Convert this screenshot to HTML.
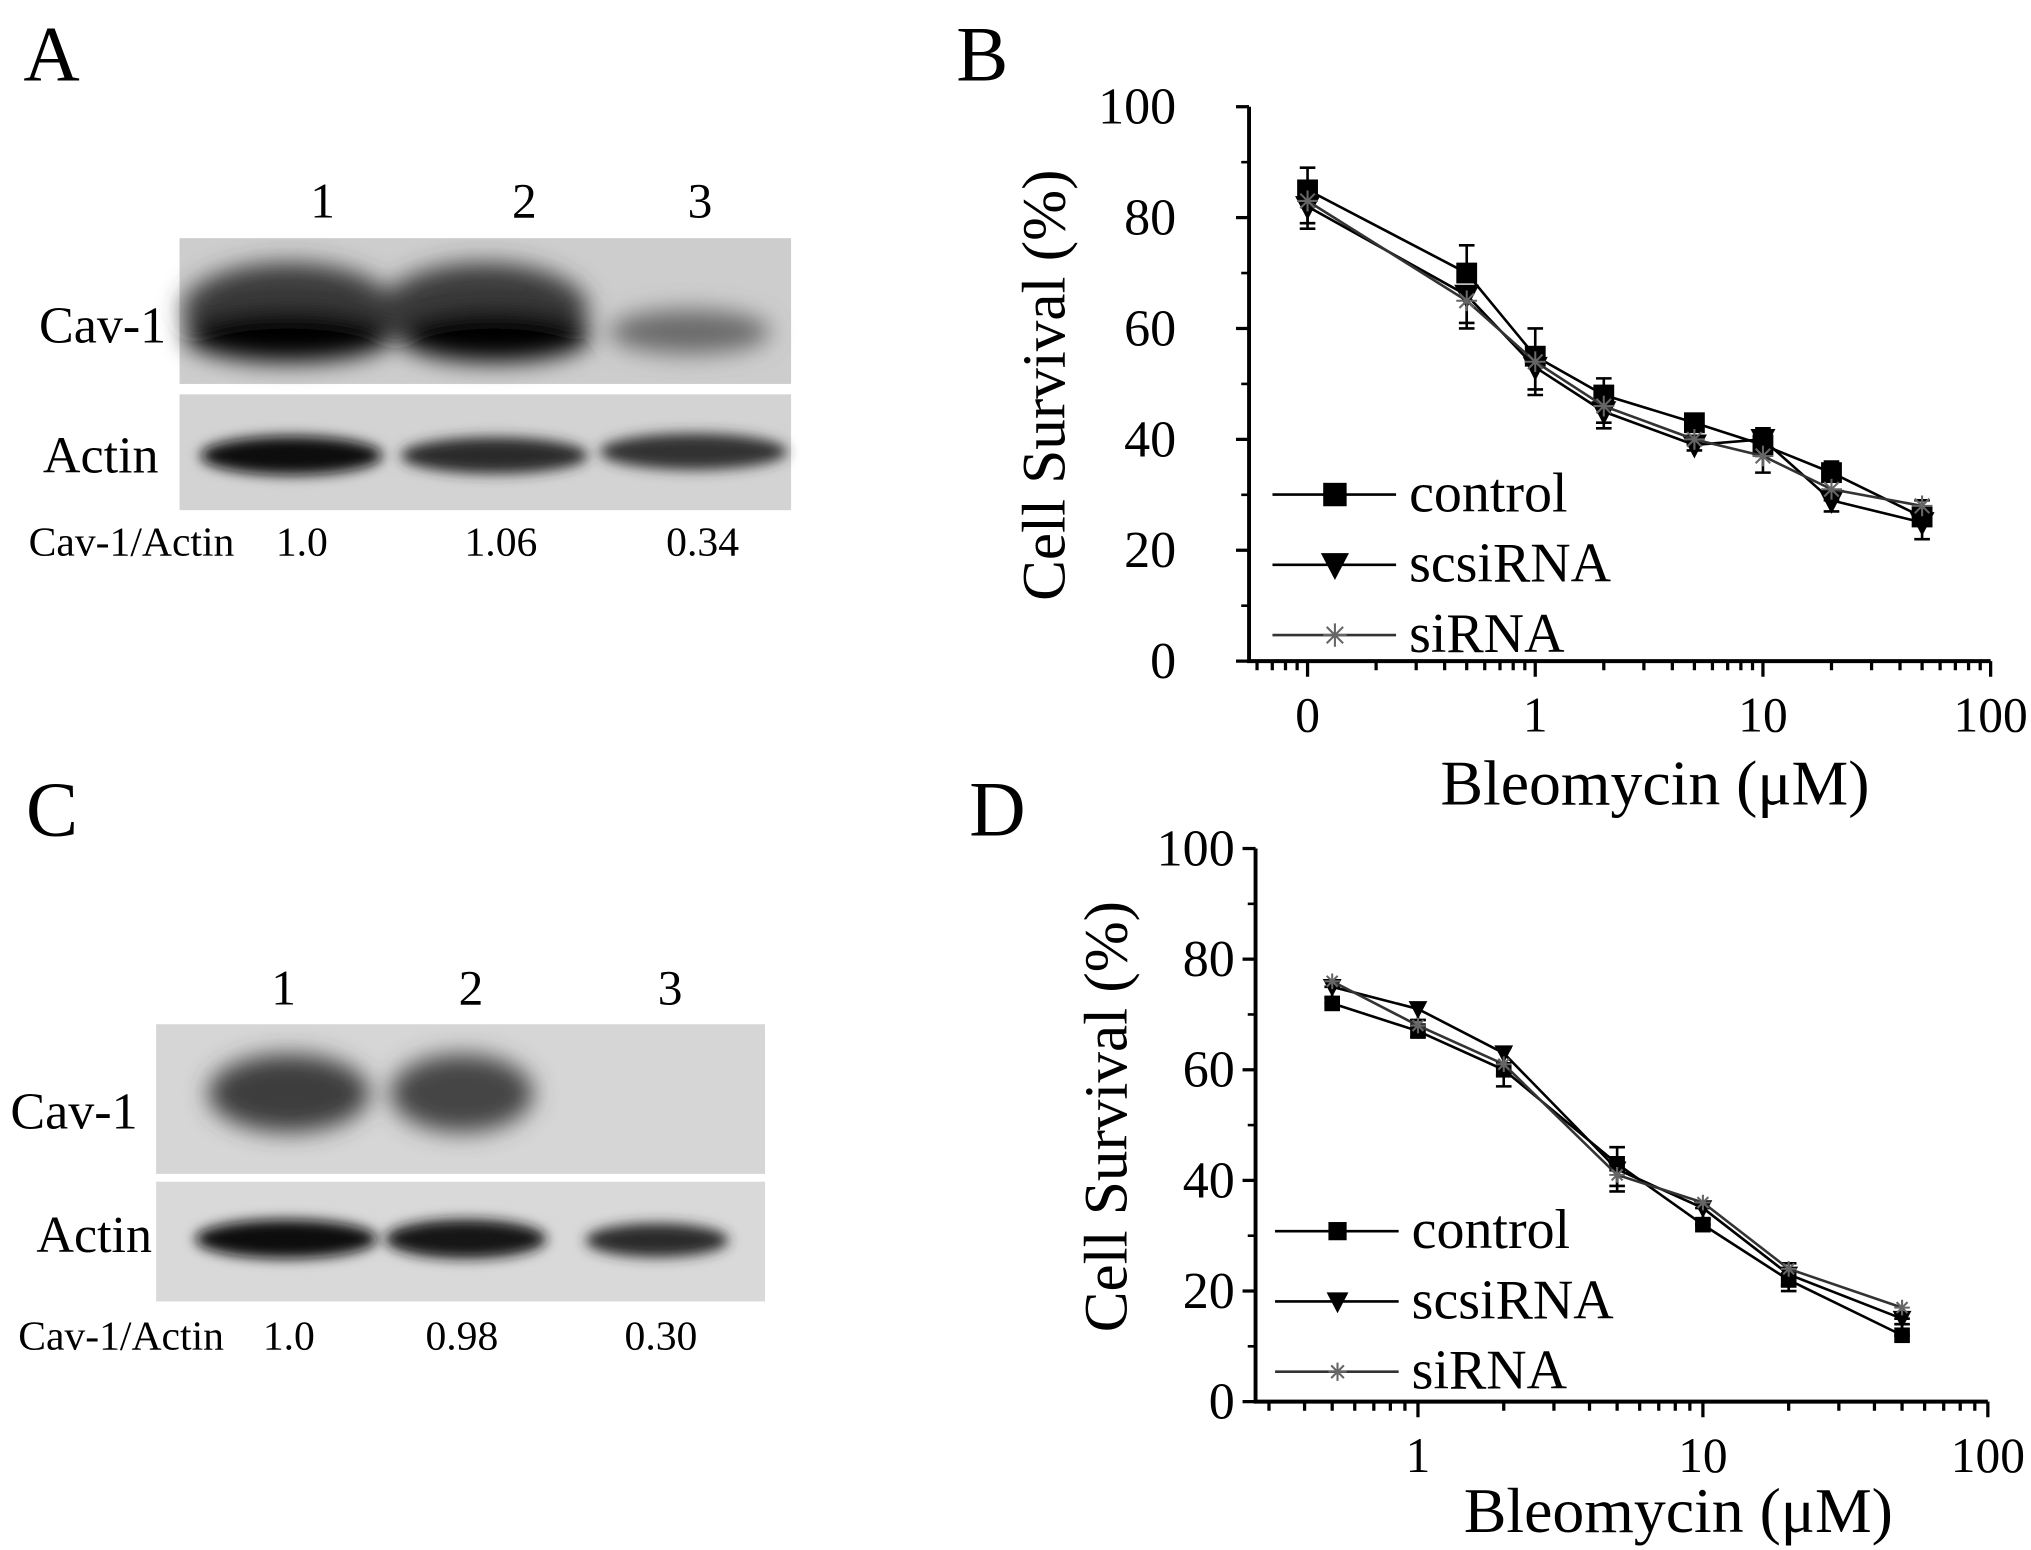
<!DOCTYPE html>
<html><head><meta charset="utf-8"><style>
html,body{margin:0;padding:0;background:#fff;}
svg{display:block;}
text{font-family:"Liberation Serif",serif;fill:#000;}
</style></head><body>
<svg id="fig" xmlns="http://www.w3.org/2000/svg" width="2031" height="1550" viewBox="0 0 1561 1191" preserveAspectRatio="none">
<defs>
<filter id="bl" x="-30%" y="-60%" width="160%" height="220%"><feGaussianBlur stdDeviation="9"/></filter>
<filter id="bl2" x="-30%" y="-60%" width="160%" height="220%"><feGaussianBlur stdDeviation="5"/></filter>
</defs>
<rect width="1561" height="1191" fill="#fff"/>
<text x="18" y="62" font-size="60">A</text>
<text x="735" y="62" font-size="60">B</text>
<text x="20" y="642" font-size="60">C</text>
<text x="745" y="642" font-size="60">D</text>

<g>
<text x="248" y="167" font-size="38" text-anchor="middle">1</text>
<text x="403" y="167" font-size="38" text-anchor="middle">2</text>
<text x="538" y="167" font-size="38" text-anchor="middle">3</text>
<rect x="138" y="183" width="470" height="112" fill="#cdcdcd"/>
<rect x="138" y="303" width="470" height="89" fill="#d3d3d3"/>
<g filter="url(#bl)">
<ellipse cx="222" cy="238" rx="82" ry="36" fill="#3a3a3a"/>
<ellipse cx="372" cy="238" rx="80" ry="36" fill="#3a3a3a"/>
<ellipse cx="222" cy="258" rx="80" ry="20" fill="#050505"/>
<ellipse cx="380" cy="258" rx="74" ry="20" fill="#050505"/>
<ellipse cx="530" cy="255" rx="62" ry="17" fill="#6a6a6a"/>
</g>
<g filter="url(#bl2)">
<ellipse cx="224" cy="350" rx="70" ry="15" fill="#0a0a0a"/>
<ellipse cx="380" cy="350" rx="72" ry="14" fill="#2a2a2a"/>
<ellipse cx="533" cy="347" rx="72" ry="14" fill="#333"/>
</g>
<text x="30" y="263" font-size="40">Cav-1</text>
<text x="33" y="363" font-size="40">Actin</text>
<text x="22" y="427" font-size="32">Cav-1/Actin</text>
<text x="232" y="427" font-size="32" text-anchor="middle">1.0</text>
<text x="385" y="427" font-size="32" text-anchor="middle">1.06</text>
<text x="540" y="427" font-size="32" text-anchor="middle">0.34</text>
</g>

<g>
<text x="218" y="772" font-size="38" text-anchor="middle">1</text>
<text x="362" y="772" font-size="38" text-anchor="middle">2</text>
<text x="515" y="772" font-size="38" text-anchor="middle">3</text>
<rect x="120" y="787" width="468" height="115" fill="#d6d6d6"/>
<rect x="120" y="908" width="468" height="92" fill="#d9d9d9"/>
<g filter="url(#bl)">
<ellipse cx="222" cy="840" rx="62" ry="30" fill="#3e3e3e"/>
<ellipse cx="355" cy="840" rx="55" ry="30" fill="#454545"/>
</g>
<g filter="url(#bl2)">
<ellipse cx="220" cy="952" rx="70" ry="15" fill="#111"/>
<ellipse cx="358" cy="952" rx="62" ry="15" fill="#151515"/>
<ellipse cx="505" cy="953" rx="55" ry="13" fill="#2a2a2a"/>
</g>
<text x="8" y="867" font-size="40">Cav-1</text>
<text x="28" y="962" font-size="40">Actin</text>
<text x="14" y="1037" font-size="32">Cav-1/Actin</text>
<text x="222" y="1037" font-size="32" text-anchor="middle">1.0</text>
<text x="355" y="1037" font-size="32" text-anchor="middle">0.98</text>
<text x="508" y="1037" font-size="32" text-anchor="middle">0.30</text>
</g>
<g id="chartB"></g>
<g id="chartD"></g>
</svg>
<script>
// Chart B data
const bDoses = [0.1, 0.5, 1, 2, 5, 10, 20, 50];
const bControl = [85, 70, 55, 48, 43, 39, 34, 26];
const bScsi = [82, 66, 53, 45, 39, 40, 29, 25];
const bSi = [83, 65, 54, 46, 40, 37, 31, 28];
const bErr = [4, 5, 5, 3, 1, 3, 2, 3];
const bXTickLabels = ["0", "1", "10", "100"];
const bXTickValues = [0.1, 1, 10, 100];
// Chart D data
const dDoses = [0.5, 1, 2, 5, 10, 20, 50];
const dControl = [72, 67, 60, 43, 32, 22, 12];
const dScsi = [75, 71, 63, 42, 35, 23, 15];
const dSi = [76, 68, 61, 41, 36, 24, 17];
const dErr = [3, 2, 4, 3, 3, 3, 3];
const dXTickLabels = ["1", "10", "100"];
const dXTickValues = [1, 10, 100];
const yTickValues = [0, 20, 40, 60, 80, 100];
const seriesNames = ["control", "scsiRNA", "siRNA"];

const NS = "http://www.w3.org/2000/svg";
function mk(parent, tag, attrs, txt){
  const e = document.createElementNS(NS, tag);
  for (const k in attrs) e.setAttribute(k, attrs[k]);
  if (txt !== undefined) e.textContent = txt;
  parent.appendChild(e);
  return e;
}
function marker(g, kind, x, y, s){
  let m;
  if (kind === 0) m = mk(g, "rect", {x:x-s, y:y-s, width:2*s, height:2*s, fill:"#000"});
  else if (kind === 1) m = mk(g, "path", {d:`M${x-s*1.2},${y-s} L${x+s*1.2},${y-s} L${x},${y+s*1.3} Z`, fill:"#000"});
  else { m = mk(g, "path", {d:`M${x-s},${y} L${x+s},${y} M${x},${y-s} L${x},${y+s} M${x-s*0.7},${y-s*0.7} L${x+s*0.7},${y+s*0.7} M${x-s*0.7},${y+s*0.7} L${x+s*0.7},${y-s*0.7}`, stroke:"#666", "stroke-width":1.6, fill:"none"}); }
  return m;
}
function drawChart(cfg){
  const g = document.getElementById(cfg.id);
  const X = v => cfg.x0 + (Math.log10(v) - cfg.lmin) * cfg.dec;
  const Y = v => cfg.y0 - v * cfg.ys;
  const right = X(cfg.xmax);
  const ax = mk(g, "path", {d:`M${cfg.x0},${Y(100)} L${cfg.x0},${cfg.y0} L${right},${cfg.y0}`, stroke:"#000", "stroke-width":3, fill:"none"});
  
  
  yTickValues.forEach(v => {
    mk(g, "line", {x1:cfg.x0-10, x2:cfg.x0, y1:Y(v), y2:Y(v), stroke:"#000", "stroke-width":2.5});
    if (v < 100) mk(g, "line", {x1:cfg.x0-6, x2:cfg.x0, y1:Y(v+10), y2:Y(v+10), stroke:"#000", "stroke-width":2});
    const t = mk(g, "text", {x:cfg.x0-cfg.tko, y:Y(v)+13, "font-size":40, "text-anchor":"end"}, String(v));
    
    
  });
  for (let e = Math.floor(cfg.lmin); e < Math.log10(cfg.xmax); e++){
    for (let k = 1; k <= 9; k++){
      const v = k * Math.pow(10, e);
      const lv = Math.log10(v);
      if (lv < cfg.lmin - 1e-9 || lv > Math.log10(cfg.xmax) + 1e-9) continue;
      const len = k === 1 ? 12 : 7;
      mk(g, "line", {x1:X(v), x2:X(v), y1:cfg.y0, y2:cfg.y0+len, stroke:"#000", "stroke-width":2.5});
    }
  }
  mk(g, "line", {x1:right, x2:right, y1:cfg.y0, y2:cfg.y0+12, stroke:"#000", "stroke-width":2.5});
  cfg.xtv.forEach((v,i) => {
    const t = mk(g, "text", {x:X(v), y:cfg.y0+54, "font-size":38, "text-anchor":"middle"}, cfg.xtl[i]);
    
    
  });
  const xt = mk(g, "text", {x:cfg.xtx, y:cfg.xty, "font-size":49, "text-anchor":"middle"}, "Bleomycin (μM)");
  
  
  const yt = mk(g, "text", {x:0, y:0, "font-size":47, "text-anchor":"middle", transform:`translate(${cfg.ytx},${cfg.yty}) rotate(-90)`}, "Cell Survival (%)");
  
  
  const all = [cfg.s0, cfg.s1, cfg.s2];
  all.forEach((vals, si) => {
    const sg = mk(g, "g", {});
    
    
    const col = si === 2 ? "#333" : "#000";
    mk(sg, "polyline", {points: vals.map((v,i) => X(cfg.doses[i]) + "," + Y(v)).join(" "), fill:"none", stroke:col, "stroke-width":2});
    vals.forEach((v,i) => {
      const x = X(cfg.doses[i]);
      const e = cfg.err[i];
      const up = si === 0;
      const y2 = up ? Y(v+e) : Y(v-e);
      mk(sg, "path", {d:`M${x},${Y(v)} L${x},${y2} M${x-6},${y2} L${x+6},${y2}`, stroke:"#000", "stroke-width":2, fill:"none"});
      const m = marker(sg, si, x, Y(v), cfg.ms);
      
      
    });
  });
  seriesNames.forEach((n, i) => {
    const lg = mk(g, "g", {});
    
    
    const ly = cfg.ly + i * 54;
    mk(lg, "line", {x1:cfg.lx, x2:cfg.lx+95, y1:ly, y2:ly, stroke:i===2?"#333":"#000", "stroke-width":2});
    marker(lg, i, cfg.lx+48, ly, cfg.ms+1);
    mk(lg, "text", {x:cfg.lx+105, y:ly+13, "font-size":43}, n);
  });
}
drawChart({id:"chartB", x0:960, y0:508, ys:4.26, lmin:Math.log10(0.1)-0.257, dec:175, xmax:100,
  doses:bDoses, s0:bControl, s1:bScsi, s2:bSi, err:bErr, xtv:bXTickValues, xtl:bXTickLabels,
  xtx:1272, xty:618, ytx:818, yty:296, lx:978, ly:380, ms:8, tko:56});
drawChart({id:"chartD", x0:965, y0:1077, ys:4.25, lmin:-0.57, dec:219, xmax:100,
  doses:dDoses, s0:dControl, s1:dScsi, s2:dSi, err:dErr, xtv:dXTickValues, xtl:dXTickLabels,
  xtx:1290, xty:1177, ytx:866, yty:858, lx:980, ly:946, ms:6, tko:16});
</script>
</body></html>
